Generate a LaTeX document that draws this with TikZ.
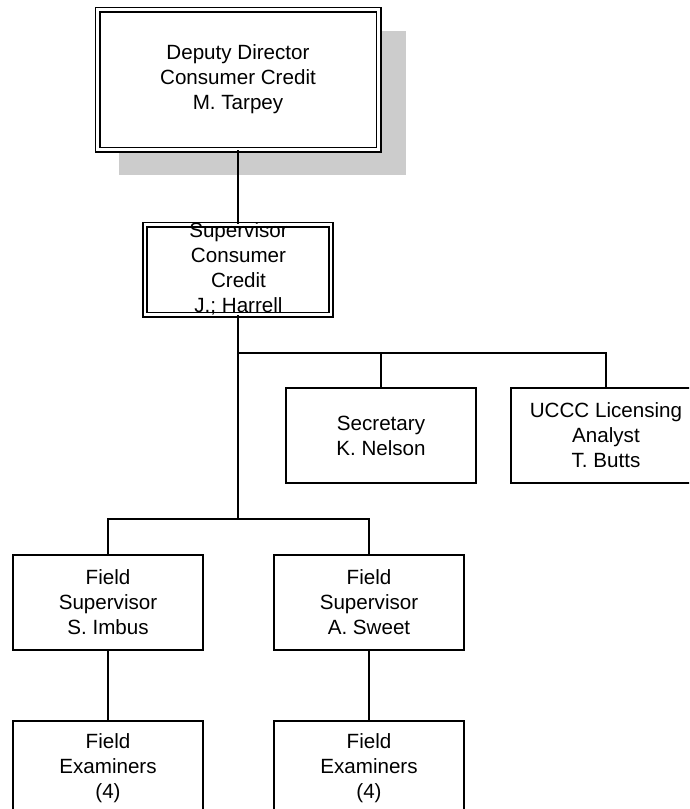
\documentclass[tikz,border=0pt]{standalone}
\usepackage{fontspec}
\setmainfont{Liberation Sans}
\tikzset{
  box/.style={draw=black, line width=1.8pt, fill=white, inner sep=0pt, minimum width=190pt, minimum height=95pt},
  dbox/.style={draw=black, line width=1.6pt, double=white, double distance=2.8pt, fill=white, inner sep=0pt},
  lbl/.style={align=center, inner sep=0pt, font=\fontsize{20.6}{25}\selectfont},
  conn/.style={draw=black, line width=1.8pt}
}
\begin{document}
\begin{tikzpicture}[x=1pt,y=-1pt]
\useasboundingbox (0,0) rectangle (689,809);
\clip (0,0) rectangle (689,809);
% shadow
\fill[gray!40] (119,31) rectangle (406,175);
% boxes
\node[dbox, minimum width=281pt, minimum height=140pt] (dir) at (238,79.5) {};
\node[dbox, minimum width=186pt, minimum height=90pt] (sup) at (238,269.5) {};
\node[box] (sec) at (381,435.5) {};
\node[box] (ucc) at (606,435.5) {};
\node[box] (fs1) at (108,602.5) {};
\node[box] (fs2) at (369,602.5) {};
\node[box] (fe1) at (108,768.5) {};
\node[box] (fe2) at (369,768.5) {};
% labels
\node[lbl] (dirt) at (dir.center) {Deputy Director\\Consumer Credit\\M. Tarpey};
\node[lbl] (supt) at (238.5,268.5) {Supervisor\\Consumer\\Credit\\J.; Harrell};
\node[lbl] (sect) at (sec.center) {Secretary\\K. Nelson};
\node[lbl] (ucct) at (ucc.center) {UCCC Licensing\\Analyst\\T. Butts};
\node[lbl] (fs1t) at (fs1.center) {Field\\Supervisor\\S. Imbus};
\node[lbl] (fs2t) at (fs2.center) {Field\\Supervisor\\A. Sweet};
\node[lbl] (fe1t) at (fe1.center) {Field\\Examiners\\(4)};
\node[lbl] (fe2t) at (fe2.center) {Field\\Examiners\\(4)};
% bus coordinates
\coordinate (b1) at (238,353);
\coordinate (b2) at (238,519);
% connectors
\draw[conn] (dir.south) -- (sup.north);
\draw[conn] (sup.south) -- (b2);
\draw[conn] (b1) -| (sec.north);
\draw[conn] (b1) -| (ucc.north);
\draw[conn] (b2) -| (fs1.north);
\draw[conn] (b2) -| (fs2.north);
\draw[conn] (fs1.south) -- (fe1.north);
\draw[conn] (fs2.south) -- (fe2.north);
\end{tikzpicture}
\end{document}
